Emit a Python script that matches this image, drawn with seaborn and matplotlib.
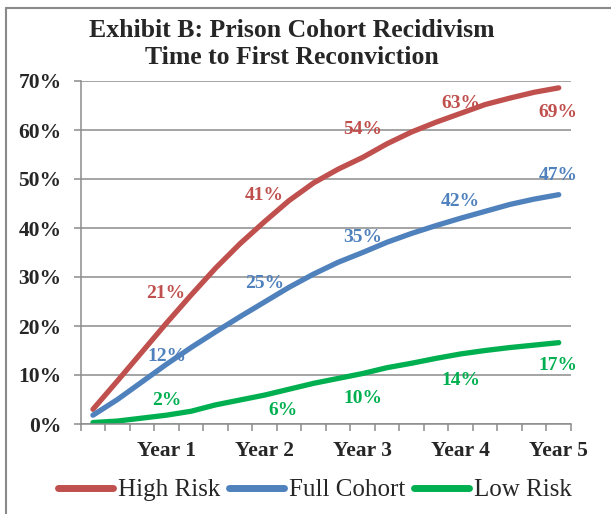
import numpy as np
import pandas as pd
import matplotlib
matplotlib.use("Agg")
import matplotlib.pyplot as plt
import seaborn as sns
from matplotlib.lines import Line2D

# Datos (20 trimestres, 5 anos)
quarters = list(range(20))
high_risk = [3.0, 8.8, 14.7, 20.6, 26.3, 31.8, 36.8, 41.3, 45.6, 49.2,
             52.0, 54.4, 57.2, 59.6, 61.6, 63.4, 65.2, 66.5, 67.7, 68.6]
full_cohort = [1.8, 5.0, 8.6, 12.2, 15.6, 18.8, 21.9, 24.9, 27.9, 30.6,
               33.0, 35.0, 37.1, 38.9, 40.5, 42.0, 43.4, 44.8, 45.9, 46.8]
low_risk = [0.3, 0.6, 1.2, 1.8, 2.6, 3.9, 4.9, 5.9, 7.1, 8.3,
            9.3, 10.3, 11.5, 12.4, 13.4, 14.3, 15.0, 15.6, 16.1, 16.6]

series_names = ["High Risk", "Full Cohort", "Low Risk"]
year_labels = ["Year 1", "Year 2", "Year 3", "Year 4", "Year 5"]
year_idx = [3, 7, 11, 15, 19]
high_labels = [21, 41, 54, 63, 69]
full_labels = [12, 25, 35, 42, 47]
low_labels = [2, 6, 10, 14, 17]

colors = {"High Risk": "#C0504D", "Full Cohort": "#4F81BD", "Low Risk": "#00B050"}

df = pd.DataFrame({
    "quarter": quarters * 3,
    "rate": high_risk + full_cohort + low_risk,
    "series": [s for s in series_names for _ in quarters],
})

sns.set_style("white")
plt.rcParams["font.family"] = ["Liberation Serif", "DejaVu Serif"]

fig = plt.figure(figsize=(6.11, 5.14), dpi=100)
ax = fig.add_axes([80.7 / 611, 1 - 424 / 514, (571 - 80.7) / 611, (424 - 81) / 514])

sns.lineplot(data=df, x="quarter", y="rate", hue="series", palette=colors,
             linewidth=3.8, ax=ax, legend=False,
             solid_capstyle="round", solid_joinstyle="round")

grid_col = "#8c8c8c"
ax.set_xlim(-0.5, 19.5)
ax.set_ylim(0, 70)
ax.set_yticks(range(0, 71, 10))
ax.set_yticklabels([f"{v}%" for v in range(0, 71, 10)], fontsize=15.5, fontweight="bold")
ax.set_xticks(np.arange(-0.5, 20, 1))
ax.set_xticklabels([])
ax.set_xticks(year_idx, minor=True)
ax.set_xticklabels(year_labels, minor=True, fontsize=15.5, fontweight="bold")
ax.tick_params(axis="x", which="major", length=4.8, width=1.1, color=grid_col, direction="out", bottom=True)
ax.tick_params(axis="x", which="minor", length=0, pad=12)
ax.tick_params(axis="y", length=4.8, width=1.1, color=grid_col, direction="out", left=True, pad=9)
ax.yaxis.grid(True, color=grid_col, linewidth=1.1)
ax.set_axisbelow(True)
for side in ["top", "right"]:
    ax.spines[side].set_visible(False)
for side in ["left", "bottom"]:
    ax.spines[side].set_color(grid_col)
    ax.spines[side].set_linewidth(1.1)
ax.set_xlabel("")
ax.set_ylabel("")

# Etiquetas de datos (desplazamientos en pixeles, colocados a mano en el original)
label_sets = [
    ("High Risk", high_risk, high_labels, [(-1, 30), (0, 26), (0, 28), (0, 10), (-1, -25)]),
    ("Full Cohort", full_cohort, full_labels, [(0, 8), (0, 18), (0, 15), (0, 17), (0, 19)]),
    ("Low Risk", low_risk, low_labels, [(0, 15), (18, -15), (0, -25), (0, -27), (-1, -23)]),
]
for name, vals, labs, offs in label_sets:
    for i, lab, off in zip(year_idx, labs, offs):
        ax.annotate(f"{lab}%", xy=(i, vals[i]), xytext=off, textcoords="offset pixels",
                    ha="center", va="center", color=colors[name],
                    fontsize=14, fontweight="bold")

fig.text(292 / 611, 1 - 44 / 514,
         "Exhibit B: Prison Cohort Recidivism\nTime to First Reconviction",
         ha="center", va="center", fontsize=18.5, fontweight="bold", linespacing=1.25)

handles = [Line2D([], [], color=colors[n], linewidth=5, solid_capstyle="round") for n in series_names]
fig.legend(handles, series_names, loc="center", bbox_to_anchor=(315 / 611, 1 - 490 / 514),
           ncol=3, frameon=False, fontsize=18, handlelength=2.2, handletextpad=0.2,
           columnspacing=0.35)

# Marco del grafico (solo visible arriba y a la izquierda)
fig.add_artist(Line2D([6 / 611, 1], [1 - 8 / 514, 1 - 8 / 514], color="#8a8a8a", linewidth=1.5,
                      transform=fig.transFigure))
fig.add_artist(Line2D([6 / 611, 6 / 611], [1 - 8 / 514, 0], color="#8a8a8a", linewidth=1.5,
                      transform=fig.transFigure))

fig.savefig("out.png", dpi=100)
